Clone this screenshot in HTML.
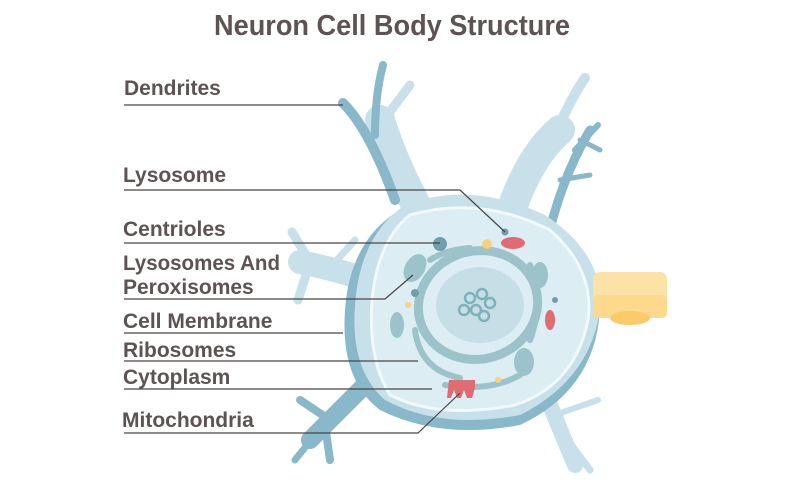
<!DOCTYPE html>
<html><head><meta charset="utf-8"><style>
html,body{margin:0;padding:0;background:#fff}
svg{display:block}
text{font-family:"Liberation Sans Narrow","Liberation Sans",sans-serif;font-weight:bold;fill:#5e5353}
</style></head><body>
<svg width="800" height="494" viewBox="0 0 800 494" xmlns="http://www.w3.org/2000/svg">
<text x="392" y="35" font-size="29" text-anchor="middle" textLength="356" lengthAdjust="spacingAndGlyphs">Neuron Cell Body Structure</text>

<!-- dendrites light -->
<g fill="none" stroke="#c8e0e9" stroke-linecap="round" stroke-linejoin="round">
<path d="M430 230 Q395 170 380 120" stroke-width="30"/>
<path d="M380 125 L410 85" stroke-width="9"/>
<path d="M505 230 Q525 160 560 130" stroke-width="30"/>
<path d="M555 135 Q570 100 585 78" stroke-width="10"/>
<path d="M400 290 Q340 270 300 262" stroke-width="24"/>
<path d="M310 262 L292 232" stroke-width="9"/>
<path d="M310 262 L298 300" stroke-width="9"/>
<path d="M330 268 L355 240" stroke-width="7"/>
<path d="M540 380 Q560 430 575 465" stroke-width="16"/>
<path d="M560 430 L590 470" stroke-width="7"/>
<path d="M555 415 L598 400" stroke-width="6"/>
<path d="M540 310 L600 295" stroke-width="40"/>
</g>
<!-- dendrites dark -->
<g fill="none" stroke="#88b8c9" stroke-linecap="round" stroke-linejoin="round">
<path d="M395 200 Q370 130 343 103" stroke-width="10"/>
<path d="M375 135 Q375 95 383 65" stroke-width="8"/>
<path d="M545 250 Q560 180 590 130" stroke-width="9"/>
<path d="M575 150 L598 125" stroke-width="6"/>
<path d="M580 140 L600 150" stroke-width="5"/>
<path d="M560 180 L590 175" stroke-width="5"/>
<path d="M380 370 Q340 410 310 440" stroke-width="18"/>
<path d="M330 420 L300 400" stroke-width="8"/>
<path d="M325 425 L330 460" stroke-width="8"/>
<path d="M315 435 L295 460" stroke-width="7"/>
</g>
<!-- body -->
<path d="M400 210 Q470 180 540 215 Q600 250 600 310 Q595 390 520 425 Q440 440 380 410 Q340 380 345 310 Q350 240 400 210Z" fill="#88b8c9"/>
<path d="M405 205 Q470 180 545 215 Q605 255 600 310 Q590 380 520 415 Q440 430 385 400 Q350 370 355 305 Q360 235 405 205Z" fill="#c8e0e9"/>
<path d="M410 215 Q480 195 550 230 Q595 270 588 320 Q575 385 515 405 Q440 420 390 395 Q368 360 372 300 Q378 240 410 215Z" fill="#dcedf4" stroke="#f2f9fb" stroke-width="3"/>
<!-- nucleus -->
<ellipse cx="478" cy="305" rx="60" ry="54" fill="none" stroke="#9cc3ca" stroke-width="9" transform="rotate(-15 478 305)"/>
<ellipse cx="480" cy="305" rx="44" ry="38" fill="#c6dfe6"/>
<g fill="none" stroke="#7fb0bc" stroke-width="2.5">
<circle cx="470" cy="298" r="5"/><circle cx="482" cy="294" r="5"/><circle cx="490" cy="303" r="5"/><circle cx="476" cy="310" r="5"/><circle cx="464" cy="310" r="5"/><circle cx="484" cy="316" r="5"/>
</g>
<g fill="none" stroke="#9cc3ca" stroke-width="6" stroke-linecap="round">
<path d="M430 260 Q445 250 470 248"/><path d="M415 330 Q420 370 460 378"/><path d="M530 265 Q545 300 530 340"/><path d="M445 385 Q490 392 520 375"/>
</g>
<!-- organelles -->
<ellipse cx="415" cy="268" rx="10" ry="15" fill="#9cc3ca" transform="rotate(30 415 268)"/>
<ellipse cx="540" cy="275" rx="8" ry="13" fill="#9cc3ca"/>
<ellipse cx="397" cy="325" rx="7" ry="13" fill="#9cc3ca"/>
<ellipse cx="524" cy="362" rx="10" ry="14" fill="#9cc3ca"/>
<ellipse cx="513" cy="243" rx="12" ry="6" fill="#e06b73"/>
<ellipse cx="550" cy="320" rx="5" ry="10" fill="#e06b73"/>
<path d="M449 380 h26 v8 l-3 10 h-5 l-3-8 -3 8 h-4 l-3-8 -3 8 h-4 z" fill="#e06b73"/>
<circle cx="440" cy="244" r="7" fill="#6d9fae"/>
<circle cx="505" cy="232" r="3.5" fill="#6d9fae"/>
<circle cx="487" cy="244" r="5" fill="#f7d27a"/>
<circle cx="415" cy="293" r="4" fill="#6d9fae"/>
<circle cx="408" cy="305" r="3" fill="#f7d27a"/>
<circle cx="555" cy="300" r="3" fill="#6d9fae"/>
<circle cx="498" cy="380" r="3" fill="#f7d27a"/>
<!-- axon hillock yellow -->
<rect x="593" y="272" width="74" height="46" rx="7" fill="#fde2a8"/>
<rect x="593" y="295" width="74" height="23" rx="5" fill="#fdd98e"/>
<ellipse cx="630" cy="318" rx="20" ry="7" fill="#fcca6a"/>

<!-- labels -->
<g stroke="#4a4545" stroke-width="1.2" fill="none">
<path d="M124 105 H343"/>
<path d="M124 190 H460 L505 232"/>
<path d="M124 243 H440"/>
<path d="M124 299 H385 L413 275"/>
<path d="M124 333 H343"/>
<path d="M124 361 H418"/>
<path d="M124 389 H432"/>
<path d="M124 433 H418 L460 393"/>
</g>
<g font-size="21">
<text x="124" y="95">Dendrites</text>
<text x="123" y="182">Lysosome</text>
<text x="123" y="236">Centrioles</text>
<text x="123" y="270" textLength="157" lengthAdjust="spacingAndGlyphs">Lysosomes And</text>
<text x="123" y="294">Peroxisomes</text>
<text x="123" y="328">Cell Membrane</text>
<text x="123" y="357">Ribosomes</text>
<text x="123" y="384">Cytoplasm</text>
<text x="122" y="427">Mitochondria</text>
</g>
</svg>
</body></html>
